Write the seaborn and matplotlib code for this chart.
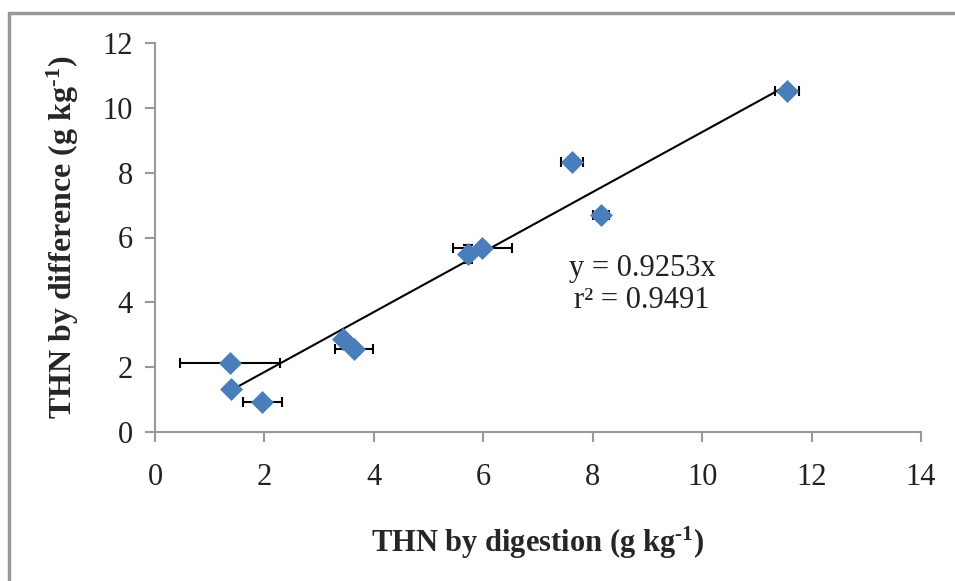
import matplotlib
matplotlib.use("Agg")
import matplotlib.pyplot as plt
import seaborn as sns
import pandas as pd
import numpy as np
from matplotlib.patches import Rectangle

# Data
digestion = [1.37, 1.38, 1.96, 3.44, 3.64, 5.72, 5.98, 7.62, 8.15, 11.55]
difference = [2.13, 1.33, 0.93, 2.87, 2.56, 5.49, 5.68, 8.33, 6.70, 10.52]
x_err = [0.92, 0.0, 0.36, 0.0, 0.35, 0.0, 0.54, 0.20, 0.15, 0.22]
y_err = [0.0, 0.0, 0.0, 0.0, 0.0, 0.29, 0.0, 0.0, 0.0, 0.15]
slope = 0.9253
r2 = 0.9491

df = pd.DataFrame({"digestion": digestion, "difference": difference,
                   "xerr": x_err, "yerr": y_err})

sns.set_style("white")
plt.rcParams['font.family'] = ['Liberation Serif', 'DejaVu Serif']
plt.rcParams['mathtext.fontset'] = 'custom'
plt.rcParams['mathtext.rm'] = 'Liberation Serif'
plt.rcParams['mathtext.bf'] = 'Liberation Serif:bold'
plt.rcParams['mathtext.it'] = 'Liberation Serif:italic'

fig = plt.figure(figsize=(9.55, 5.81), dpi=100)
ax = fig.add_axes([155/955, 1-432/581, (921-155)/955, (432-43)/581])

# Figure border (partially visible)
fig.patches.append(Rectangle((9/955, -0.1), 1.2, 1 - 13/581 + 0.1,
                             transform=fig.transFigure, fill=False,
                             edgecolor='#999999', linewidth=2.5, zorder=0))

# Error bars
ax.errorbar(df["digestion"], df["difference"], xerr=df["xerr"], yerr=df["yerr"],
            fmt='none', ecolor='black', elinewidth=1.5, capsize=3.3, capthick=1.5, zorder=2)

# Trend line
xl = np.array([min(digestion), max(digestion)])
ax.plot(xl, slope * xl, color='black', linewidth=1.5, zorder=3)

# Points
sns.scatterplot(data=df, x="digestion", y="difference", marker='D', s=125,
                color='#4A7EBB', edgecolor='#4A7EBB', linewidth=0.5, ax=ax, zorder=4)

ax.set_xlim(0, 14)
ax.set_ylim(0, 12)
ax.set_xticks(range(0, 15, 2))
ax.set_yticks(range(0, 13, 2))
for s in ['top', 'right']:
    ax.spines[s].set_visible(False)
for s in ['left', 'bottom']:
    ax.spines[s].set_color('#999999')
    ax.spines[s].set_linewidth(1.5)
ax.tick_params(axis='both', which='major', direction='out', length=7, width=1.5,
               color='#999999', labelsize=22, labelcolor='#222222',
               left=True, bottom=True)
ax.tick_params(axis='x', pad=15)
ax.tick_params(axis='y', pad=9)

ax.set_xlabel(r"THN by digestion (g kg$^{\mathbf{\text{-}1}}$)", fontsize=22,
              fontweight='bold', labelpad=24)
ax.set_ylabel(r"THN by difference (g kg$^{\mathbf{\text{-}1}}$)", fontsize=23,
              fontweight='bold', labelpad=15)

ax.text(8.9, 5.05, "y = 0.9253x", fontsize=22, ha='center', va='center', color='#222222')
ax.text(8.9, 4.05, "r² = 0.9491", fontsize=22, ha='center', va='center', color='#222222')

fig.savefig("out.png", dpi=100)
